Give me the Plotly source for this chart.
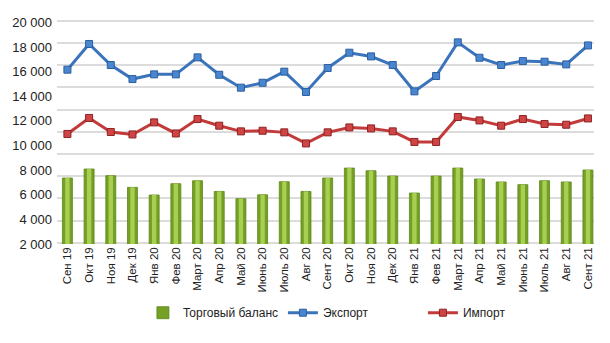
import plotly.graph_objects as go

months = ["Сен 19", "Окт 19", "Ноя 19", "Дек 19", "Янв 20", "Фев 20", "Март 20", "Апр 20",
          "Май 20", "Июнь 20", "Июль 20", "Авг 20", "Сент 20", "Окт 20", "Ноя 20", "Дек 20",
          "Янв 21", "Фев 21", "Март 21", "Апр 21", "Май 21", "Июнь 21", "Июль 21", "Авг 21", "Сент 21"]

balance = [7360, 8090, 7550, 6600, 5980, 6900, 7140, 6270, 5680, 6000, 7060, 6270,
           7360, 8170, 7950, 7520, 6140, 7520, 8170, 7280, 7040, 6820, 7140, 7040, 8010]

export = [16160, 18250, 16540, 15400, 15780, 15780, 17160, 15750, 14700, 15100, 16000, 14350,
          16300, 17540, 17240, 16540, 14400, 15650, 18380, 17130, 16540, 16860, 16810, 16590, 18130]

imports = [10940, 12240, 11100, 10900, 11880, 10980, 12150, 11610, 11150, 11200, 11070, 10170,
           11070, 11470, 11390, 11150, 10290, 10290, 12320, 12040, 11610, 12150, 11750, 11690, 12200]

ytick_vals = [2000, 4000, 6000, 8000, 10000, 12000, 14000, 16000, 18000, 20000]
ytick_text = ["2 000", "4 000", "6 000", "8 000", "10 000", "12 000", "14 000", "16 000", "18 000", "20 000"]

x = list(range(len(months)))

fig = go.Figure()
fig.add_trace(go.Bar(x=x, y=balance, name="Торговый баланс", width=0.46,
                     marker=dict(color="#74a025", line=dict(color="#5c861a", width=0.8))))
fig.add_trace(go.Bar(x=x, y=balance, width=0.2, showlegend=False, hoverinfo="skip",
                     marker=dict(color="#a9cf52", line=dict(width=0))))
fig.add_trace(go.Scatter(x=x, y=export, name="Экспорт", mode="lines+markers",
                         line=dict(color="#3b74ba", width=3),
                         marker=dict(symbol="square", size=7, color="#4a86cf",
                                     line=dict(color="#2b5f9e", width=1))))
fig.add_trace(go.Scatter(x=x, y=imports, name="Импорт", mode="lines+markers",
                         line=dict(color="#c23a3a", width=3),
                         marker=dict(symbol="square", size=7, color="#cf4545",
                                     line=dict(color="#8e2222", width=1))))

fig.update_layout(
    width=610, height=343,
    margin=dict(l=57, r=16, t=15, b=99),
    plot_bgcolor="white", paper_bgcolor="white",
    barmode="overlay",
    font=dict(family="Liberation Sans, Arial, sans-serif", size=12, color="#222222"),
    legend=dict(orientation="h", x=0.16, xanchor="left", y=-0.30, yanchor="middle",
                font=dict(size=12, color="#222222"), entrywidth=95, traceorder="normal"),
    showlegend=True,
)
fig.update_xaxes(
    range=[-0.48, 24.28],
    tickmode="array", tickvals=x, ticktext=months,
    tickangle=-90, tickfont=dict(size=11.5, color="#222222"),
    showgrid=False, zeroline=False, showline=False, ticks="",
)
fig.update_yaxes(
    range=[2000, 20603],
    tickmode="array", tickvals=ytick_vals, ticktext=ytick_text,
    tickfont=dict(size=13, color="#222222"),
    showgrid=False, zeroline=False, showline=False, ticks="", ticklabelstandoff=4,
    minor=dict(tick0=2106, dtick=1803, showgrid=True, gridcolor="#dcdcdc", gridwidth=1.5, ticks=""),
)

fig.write_html("out.html")
